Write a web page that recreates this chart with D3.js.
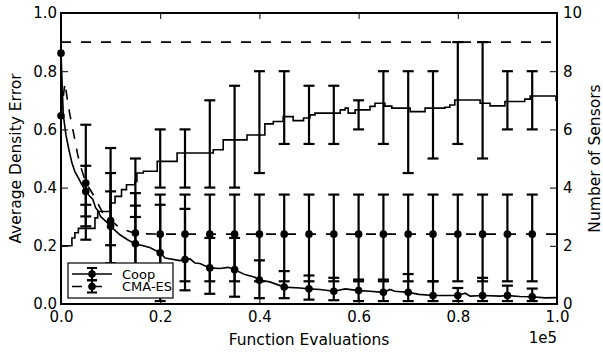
<!DOCTYPE html>
<html>
<head>
<meta charset="utf-8">
<script src="https://cdn.jsdelivr.net/npm/d3@7"></script>
<style>
  body { margin: 0; background: #fff; }
  svg { display: block; }
  text { font-family: "DejaVu Sans", sans-serif; fill: #000; }
</style>
</head>
<body>
<svg width="603" height="352"></svg>
<script>
// x positions of markers / error bars (function evaluations)
const markX = [0, 5000, 10000, 15000, 20000, 25000, 30000, 35000, 40000, 45000, 50000,
               55000, 60000, 65000, 70000, 75000, 80000, 85000, 90000, 95000];
const barX = markX.slice(1);

// average density error, Coop (solid)
const coopErrLine = [[0, 0.862], [460, 0.65], [1000, 0.58], [1600, 0.53], [2200, 0.485], [2800, 0.455],
  [3600, 0.43], [4200, 0.41], [5000, 0.387], [5800, 0.37], [6400, 0.36], [7000, 0.33], [7500, 0.32],
  [8000, 0.30], [9000, 0.285], [10000, 0.267], [11900, 0.238], [13500, 0.22], [15000, 0.207],
  [17900, 0.194], [20000, 0.176], [21000, 0.158], [24000, 0.149], [25000, 0.153], [26000, 0.155],
  [27000, 0.141], [28000, 0.139], [30000, 0.124], [32000, 0.122], [33700, 0.126], [35000, 0.118],
  [37100, 0.101], [39100, 0.092], [40000, 0.082], [42100, 0.076], [45000, 0.058], [48200, 0.055],
  [50000, 0.052], [52200, 0.05], [55000, 0.044], [57300, 0.052], [60000, 0.046], [62300, 0.044],
  [65000, 0.040], [66300, 0.050], [67300, 0.044], [70000, 0.040], [72200, 0.033], [75000, 0.029],
  [77400, 0.029], [80000, 0.029], [81500, 0.037], [82500, 0.027], [85000, 0.029], [88500, 0.027],
  [90000, 0.029], [92500, 0.026], [95000, 0.025], [97600, 0.021], [100000, 0.022]];
const coopErrMean = [0.862, 0.387, 0.267, 0.207, 0.176, 0.153, 0.124, 0.118, 0.082, 0.058, 0.052,
  0.044, 0.046, 0.040, 0.040, 0.029, 0.029, 0.029, 0.029, 0.025];
const coopErrLo = [0.301, 0.14, 0.08, 0.01, 0.047, 0.035, 0.025, 0.02, 0.02, 0.015, 0.013, 0.01,
  0.01, 0.01, 0.01, 0.01, 0.01, 0.01, 0.01];
const coopErrHi = [0.475, 0.387, 0.338, 0.341, 0.327, 0.227, 0.227, 0.15, 0.113, 0.098, 0.09, 0.084,
  0.084, 0.103, 0.078, 0.055, 0.09, 0.063, 0.053];

// average density error, CMA-ES (dashed)
const cmaErrLine = [[0, 0.647], [800, 0.76], [1300, 0.70], [1800, 0.65], [2500, 0.59], [3400, 0.51],
  [4200, 0.46], [5000, 0.416], [6000, 0.39], [7000, 0.36], [8500, 0.31], [10000, 0.287],
  [12000, 0.26], [15000, 0.242], [20000, 0.24], [100000, 0.24]];
const cmaErrMean = [0.647, 0.416, 0.287, 0.244, 0.24, 0.24, 0.24, 0.24, 0.24, 0.24, 0.24,
  0.24, 0.24, 0.24, 0.24, 0.24, 0.24, 0.24, 0.24, 0.24];
const cmaErrLo = [0.267, 0.13, 0.10, 0.078, 0.078, 0.078, 0.078, 0.078, 0.078, 0.078, 0.078, 0.078,
  0.078, 0.078, 0.078, 0.078, 0.078, 0.078, 0.078];
const cmaErrHi = [0.616, 0.536, 0.381, 0.376, 0.376, 0.376, 0.376, 0.376, 0.376, 0.376, 0.376, 0.376,
  0.376, 0.376, 0.376, 0.376, 0.376, 0.376, 0.376];

// number of sensors (right axis)
const coopSensLine = [[0, 2.0], [2200, 2.27], [2800, 2.45], [3500, 2.6], [6850, 2.96], [7400, 3.18],
  [9900, 3.47], [10900, 3.7], [12200, 3.93], [13200, 4.1], [14900, 4.21], [15300, 4.5], [16600, 4.56],
  [19400, 4.9], [23400, 5.19], [30700, 5.3], [32700, 5.64], [37500, 5.81], [41100, 6.19], [42800, 6.27],
  [44800, 6.44], [46800, 6.3], [48900, 6.39], [50200, 6.5], [51200, 6.56], [56300, 6.67], [57300, 6.73],
  [57900, 6.56], [59300, 6.67], [62300, 6.79], [63300, 6.9], [65300, 6.8], [66700, 6.73], [70400, 6.61],
  [73400, 6.73], [77400, 6.76], [78400, 6.84], [79400, 7.01], [84500, 6.9], [86500, 6.81], [89500, 6.96],
  [93500, 7.04], [94600, 7.15], [99800, 7.0], [100000, 7.0]];
const coopSensLo = [2.21, 2.02, 2.99, 4.0, 4.0, 4.0, 4.0, 4.5, 5.5, 5.5, 5.5, 6.0, 5.5, 4.5, 5.0, 5.5, 5.0, 6.0, 6.0];
const coopSensHi = [3.41, 4.5, 5.0, 6.0, 6.0, 7.0, 7.5, 8.0, 8.0, 7.5, 7.5, 7.0, 8.0, 8.0, 8.0, 9.0, 9.0, 8.0, 8.0];
const cmaSensLine = [[0, 9], [100000, 9]];

const xTicks = [0, 20000, 40000, 60000, 80000, 100000];
const yTicks = [0, 0.2, 0.4, 0.6, 0.8, 1.0];
const y2Ticks = [0, 2, 4, 6, 8, 10];

const margin = {top: 13, right: 46, bottom: 48, left: 61},
    width = 603 - margin.left - margin.right,
    height = 352 - margin.top - margin.bottom;

const svg = d3.select("svg")
  .append("g")
  .attr("transform", `translate(${margin.left},${margin.top})`);

const x = d3.scaleLinear().domain([0, 100000]).range([0, width]);
const y = d3.scaleLinear().domain([0, 1]).range([height, 0]);
const y2 = d3.scaleLinear().domain([0, 10]).range([height, 0]);

// axes (ticks inward)
const fmt = d => d.toFixed(1);
svg.append("g")
  .attr("transform", `translate(0,${height})`)
  .call(d3.axisBottom(x).tickValues(xTicks).tickFormat(d => (d / 1e5).toFixed(1)).tickSize(-6).tickPadding(7));
svg.append("g")
  .call(d3.axisTop(x).tickValues(xTicks).tickFormat("").tickSize(-6));
svg.append("g")
  .call(d3.axisLeft(y).tickValues(yTicks).tickFormat(fmt).tickSize(-7).tickPadding(4));
svg.append("g")
  .attr("transform", `translate(${width},0)`)
  .call(d3.axisRight(y2).tickValues(y2Ticks).tickFormat(d3.format("d")).tickSize(-7).tickPadding(6));
svg.selectAll(".domain").remove();
svg.selectAll(".tick line").attr("stroke", "#000").attr("stroke-width", 1);
svg.selectAll(".tick text").attr("font-size", 15).attr("font-family", "DejaVu Sans").attr("fill", "#000");

const line = d3.line().x(d => x(d[0])).y(d => y(d[1]));
const line2 = d3.line().x(d => x(d[0])).y(d => y2(d[1])).curve(d3.curveStepAfter);

function errorBars(xs, lo, hi, scale) {
  const g = svg.append("g").attr("stroke", "#000").attr("stroke-width", 2.2);
  xs.forEach((xv, i) => {
    const px = x(xv);
    g.append("line").attr("x1", px).attr("x2", px).attr("y1", scale(lo[i])).attr("y2", scale(hi[i]));
    [lo[i], hi[i]].forEach(v => {
      g.append("line").attr("x1", px - 5.5).attr("x2", px + 5.5).attr("y1", scale(v)).attr("y2", scale(v));
    });
  });
}

// density error series
svg.append("path").datum(coopErrLine).attr("d", line)
  .attr("fill", "none").attr("stroke", "#000").attr("stroke-width", 1.6);
svg.append("path").datum(cmaErrLine).attr("d", line)
  .attr("fill", "none").attr("stroke", "#000").attr("stroke-width", 1.6).attr("stroke-dasharray", "10,10");
errorBars(barX, coopErrLo, coopErrHi, y);
errorBars(barX, cmaErrLo, cmaErrHi, y);
svg.append("g").selectAll("circle").data(markX).join("circle")
  .attr("cx", d => x(d)).attr("cy", (d, i) => y(coopErrMean[i])).attr("r", 3.8).attr("fill", "#000");
svg.append("g").selectAll("circle").data(markX).join("circle")
  .attr("cx", d => x(d)).attr("cy", (d, i) => y(cmaErrMean[i])).attr("r", 3.8).attr("fill", "#000");

// sensor series (right axis)
svg.append("path").datum(coopSensLine).attr("d", line2)
  .attr("fill", "none").attr("stroke", "#000").attr("stroke-width", 1.6);
svg.append("path").datum(cmaSensLine).attr("d", line2)
  .attr("fill", "none").attr("stroke", "#000").attr("stroke-width", 1.6).attr("stroke-dasharray", "10,10");
errorBars(barX, coopSensLo, coopSensHi, y2);

// frame
svg.append("rect").attr("width", width).attr("height", height)
  .attr("fill", "none").attr("stroke", "#000").attr("stroke-width", 2);

// axis labels
svg.append("text").attr("x", width / 2).attr("y", height + 41)
  .attr("text-anchor", "middle").attr("font-size", 15.5).text("Function Evaluations");
svg.append("text").attr("x", width).attr("y", height + 39)
  .attr("text-anchor", "end").attr("font-size", 15).text("1e5");
svg.append("text").attr("transform", `translate(${20.5 - margin.left},${height / 2}) rotate(-90)`)
  .attr("text-anchor", "middle").attr("font-size", 15.5).text("Average Density Error");
svg.append("text").attr("transform", `translate(${600 - margin.left},${height / 2}) rotate(-90)`)
  .attr("text-anchor", "middle").attr("font-size", 15.5).text("Number of Sensors");

// legend
const legend = svg.append("g").attr("transform", "translate(7,250)");
legend.append("rect").attr("width", 105).attr("height", 35)
  .attr("fill", "#fff").attr("stroke", "#000").attr("stroke-width", 1.2);
[["Coop", null, 11], ["CMA-ES", "10,10", 23.5]].forEach(([name, dash, ly]) => {
  const e = legend.append("g").attr("stroke", "#000");
  e.append("line").attr("x1", 4).attr("x2", 44).attr("y1", ly).attr("y2", ly)
    .attr("stroke-width", 1.6).attr("stroke-dasharray", dash);
  e.append("line").attr("x1", 24).attr("x2", 24).attr("y1", ly - 6).attr("y2", ly + 6).attr("stroke-width", 2);
  e.append("line").attr("x1", 19).attr("x2", 29).attr("y1", ly - 6).attr("y2", ly - 6).attr("stroke-width", 2);
  e.append("line").attr("x1", 19).attr("x2", 29).attr("y1", ly + 6).attr("y2", ly + 6).attr("stroke-width", 2);
  legend.append("circle").attr("cx", 24).attr("cy", ly).attr("r", 3.8).attr("fill", "#000");
  legend.append("text").attr("x", 54).attr("y", ly + 4.5).attr("font-size", 13).text(name);
});
</script>
</body>
</html>
